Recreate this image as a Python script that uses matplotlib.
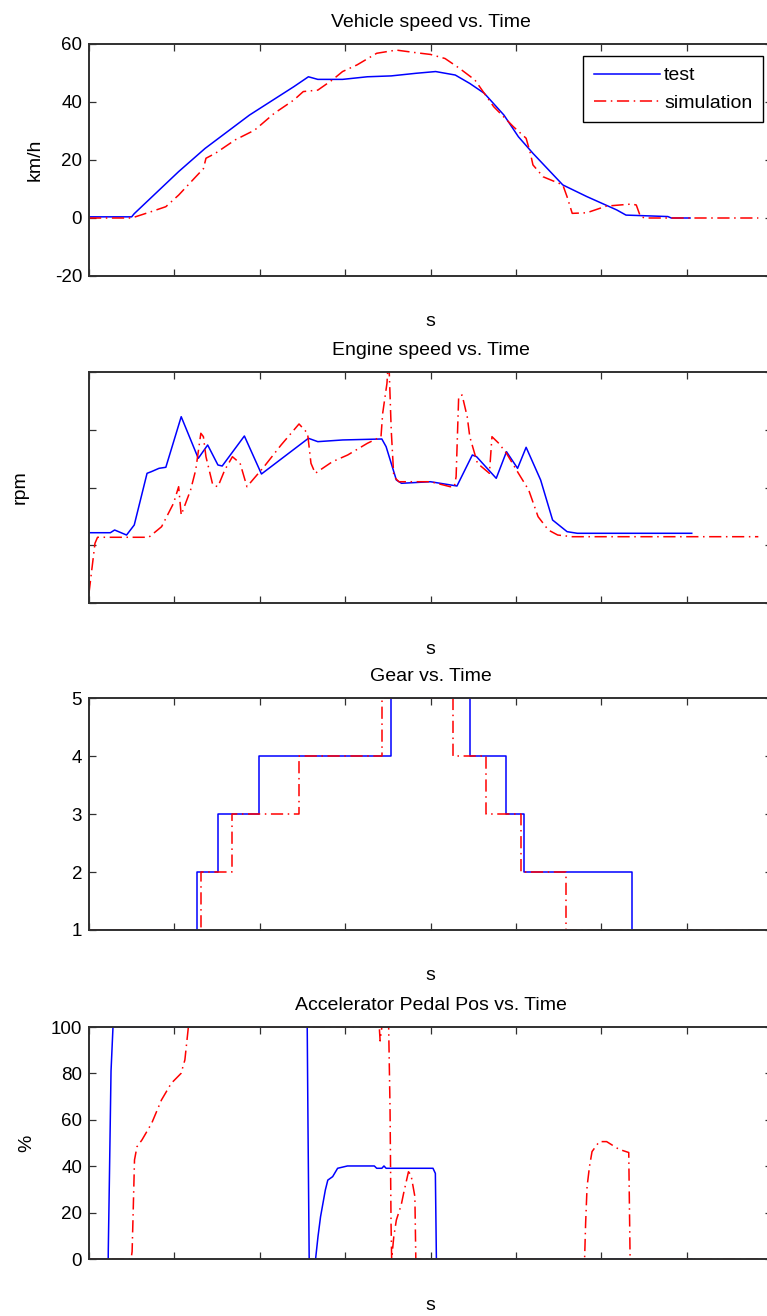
import numpy as np
import matplotlib
matplotlib.use("Agg")
import matplotlib.pyplot as plt

plt.rcParams['font.family'] = ['Liberation Sans', 'DejaVu Sans']
plt.rcParams['axes.unicode_minus'] = False

# vehicle speed (km/h)
spd_test_t = [0, 50, 53, 105, 136, 188, 240, 257, 268, 297, 326, 354, 383, 406, 429, 446,
              463, 486, 503, 520, 555, 583, 618, 629, 678, 682, 704]
spd_test = [0.4, 0.4, 1.5, 16, 24, 35.5, 45.3, 48.7, 47.8, 47.8, 48.7, 49, 49.9, 50.5, 49.3, 46.4,
            43, 35.5, 28, 22.3, 11.4, 7.4, 2.8, 1.0, 0.5, 0, 0]
spd_sim_t = [0, 50, 73, 90, 105, 125, 134, 137, 148, 171, 194, 217, 240, 251, 268, 285, 297, 314,
             337, 360, 383, 400, 417, 434, 452, 474, 497, 512, 517, 520, 532, 555, 560, 566, 583,
             606, 635, 641, 646, 652, 784]
spd_sim = [0, 0, 2.2, 3.9, 7.9, 14.2, 17, 20.6, 22.3, 26.9, 30.3, 36.1, 40.7, 43.6, 44.1, 47.6,
           50.5, 52.8, 56.8, 57.9, 57, 56.4, 55, 51.6, 47.6, 38.4, 31.5, 27.5, 22.3, 18.3, 14.2,
           11.4, 7.3, 1.6, 1.8, 4.1, 4.8, 4.5, 0.4, 0, 0]

# engine speed (rpm)
eng_test_t = [0, 25, 30, 44, 53, 68, 73, 82, 90, 108, 128, 139, 151, 156, 182, 202, 257, 268, 297,
              343, 348, 360, 366, 400, 431, 449, 454, 477, 489, 502, 512, 529, 543, 560, 572, 706]
eng_test = [1217, 1217, 1264, 1177, 1351, 2246, 2274, 2332, 2350, 3226, 2505, 2736, 2390, 2372,
            2892, 2234, 2852, 2794, 2823, 2840, 2707, 2130, 2073, 2100, 2026, 2563, 2533, 2159,
            2620, 2332, 2696, 2130, 1437, 1235, 1207, 1207]
eng_sim_t = [0, 7, 10, 70, 85, 99, 105, 108, 119, 125, 131, 134, 137, 145, 151, 159, 168, 177, 185,
             205, 225, 246, 256, 260, 265, 285, 303, 326, 342, 344, 349, 351, 354, 357, 363, 400,
             423, 428, 430, 433, 437, 443, 446, 455, 469, 472, 480, 489, 503, 515, 526, 538, 549,
             566, 784]
eng_sim = [173, 1034, 1138, 1138, 1321, 1726, 2014, 1524, 1957, 2303, 2939, 2880, 2533, 2043, 2014,
           2303, 2533, 2419, 2014, 2360, 2736, 3100, 2939, 2419, 2246, 2446, 2563, 2765, 2880, 3285,
           3804, 4300, 2996, 2187, 2100, 2100, 2014, 2014, 2187, 3572, 3602, 3226, 2880, 2419,
           2246, 2880, 2765, 2592, 2246, 1957, 1495, 1264, 1177, 1148, 1148]

# gear (step changes)
gear_test_t = [0, 126, 151, 199, 354, 446, 488, 510, 636, 706]
gear_test = [1, 2, 3, 4, 5, 4, 3, 2, 1, 1]
gear_sim_t = [0, 131, 168, 246, 343, 426, 465, 506, 559, 784]
gear_sim = [1, 2, 3, 4, 5, 4, 3, 2, 1, 1]

# accelerator pedal (%)
ped_test_t = [0, 22.5, 22.6, 24, 25.8, 28.1, 255.6, 256.5, 257.9, 265.4, 268.2, 271.2, 276.8, 279.7,
              285.4, 291.2, 302.7, 334.2, 337, 343, 345.5, 348, 402.9, 405.7, 406.9, 706]
ped_test = [0, 0, 4, 37, 81, 100, 100, 57.8, 0, 0, 9.6, 18.2, 29.7, 34, 35.5, 39.1, 40.1, 40.1, 39.1,
            39.1, 40.1, 39.1, 39.1, 36.9, 0, 0]
ped_sim_t = [0, 49.3, 50.5, 51.7, 53.3, 56.2, 62, 73.4, 84.8, 96.3, 107.8, 112.3, 116.4, 340, 341,
             343, 351, 352.6, 353.8, 354.5, 357, 360, 365.7, 368.5, 374.2, 377.2, 381.7, 382.8,
             580.5, 581.7, 583.4, 586.2, 589.2, 597.7, 606.3, 620.7, 632.2, 633.8, 784]
ped_sim = [0, 0, 3.2, 19.7, 42.7, 48.4, 51.3, 58.5, 68.5, 75.7, 80, 85.8, 100, 100, 94, 100, 100,
           65, 15, 0, 9.6, 16.8, 23.3, 28.3, 37.6, 36.2, 26.9, 0, 0, 15.4, 31.2, 39.8, 46.3, 50.6,
           50.6, 47.3, 45.9, 0, 0]

W, H = 767.0, 1316.0
fig = plt.figure(figsize=(W / 100, H / 100), dpi=100)

def box(top, bottom, left=89, right=772):
    return [left / W, 1 - bottom / H, (right - left) / W, (bottom - top) / H]

dashdot = (0, (8, 3, 1, 3))
axcol = '#303030'
lw = 1.1

def style(ax, ylim, yticks, showlabels=True):
    ax.set_xlim(0, 800)
    ax.set_xticks(np.arange(0, 801, 100))
    ax.set_ylim(*ylim)
    ax.set_yticks(yticks)
    ax.tick_params(direction='in', length=5, width=0.9, top=True, right=True,
                   color=axcol, labelsize=13.5, pad=5, labelbottom=False,
                   labelleft=showlabels)
    for s in ax.spines.values():
        s.set_color(axcol)
        s.set_linewidth(1.4)
        s.set_zorder(3)
    ax.set_xlabel('s', fontsize=14, labelpad=27)

ax1 = fig.add_axes(box(44, 276))
ax1.plot(spd_test_t, spd_test, color='#0000ff', lw=lw, label='test')
ax1.plot(spd_sim_t, spd_sim, color='#ff0000', lw=lw, ls=dashdot, label='simulation')
style(ax1, (-20, 60), [-20, 0, 20, 40, 60])
ax1.set_title('Vehicle speed vs. Time', fontsize=14, pad=12)
ax1.set_ylabel('km/h', fontsize=14)
ax1.yaxis.set_label_coords(-0.067, 0.5)
leg = ax1.legend(loc='upper right', bbox_to_anchor=(0.987, 0.948), borderaxespad=0,
                 fontsize=14, handlelength=3.4, handletextpad=0.2, labelspacing=0.5,
                 borderpad=0.55, fancybox=False, framealpha=1, edgecolor='black')
leg.get_frame().set_linewidth(1.0)

ax2 = fig.add_axes(box(372, 603))
ax2.plot(eng_test_t, eng_test, color='#0000ff', lw=lw)
ax2.plot(eng_sim_t, eng_sim, color='#ff0000', lw=lw, ls=dashdot)
style(ax2, (0, 4000), [0, 1000, 2000, 3000, 4000], showlabels=False)
ax2.set_title('Engine speed vs. Time', fontsize=14, pad=12)
ax2.set_ylabel('rpm', fontsize=14)
ax2.yaxis.set_label_coords(-0.089, 0.5)

ax3 = fig.add_axes(box(698, 930))
ax3.plot(gear_test_t, gear_test, color='#0000ff', lw=lw, drawstyle='steps-post')
ax3.plot(gear_sim_t, gear_sim, color='#ff0000', lw=lw, ls=dashdot, drawstyle='steps-post')
style(ax3, (1, 5), [1, 2, 3, 4, 5])
ax3.set_title('Gear vs. Time', fontsize=14, pad=12)

ax4 = fig.add_axes(box(1027, 1259))
ax4.plot(ped_test_t, ped_test, color='#0000ff', lw=lw)
ax4.plot(ped_sim_t, ped_sim, color='#ff0000', lw=lw, ls=dashdot)
style(ax4, (0, 100), [0, 20, 40, 60, 80, 100])
ax4.set_title('Accelerator Pedal Pos vs. Time', fontsize=14, pad=12)
ax4.set_ylabel('%', fontsize=14)
ax4.yaxis.set_label_coords(-0.078, 0.5)

fig.savefig('out.png', dpi=100, facecolor='white')
